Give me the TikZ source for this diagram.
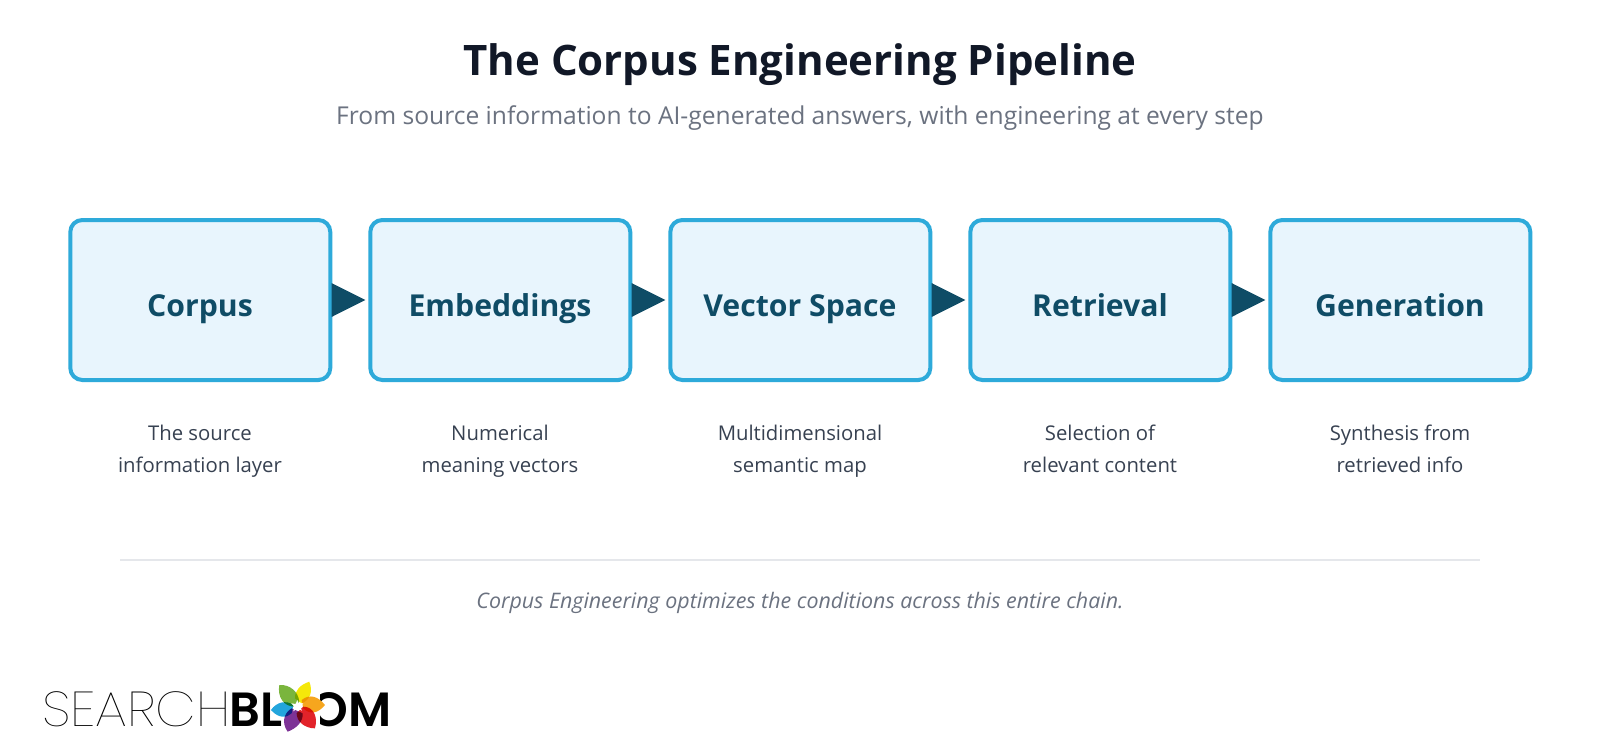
\documentclass[tikz,border=0pt]{standalone}
\usepackage{fontspec}
\usetikzlibrary{calc}
\setmainfont{Open Sans}
\newfontfamily\thinfont{Poppins Thin}[FakeStretch=1.075]
\newfontfamily\blackfont{Poppins SemiBold}
\definecolor{boxline}{HTML}{2EAADA}
\definecolor{boxfill}{HTML}{E8F5FD}
\definecolor{deep}{HTML}{0F4C66}
\definecolor{titlec}{HTML}{111827}
\definecolor{greyc}{HTML}{6B7280}
\definecolor{descc}{HTML}{374151}
\definecolor{rulec}{HTML}{E5E7EB}
\tikzset{
 stepbox/.style={draw=boxline,fill=boxfill,line width=4pt,rounded corners=12pt,minimum width=260pt,minimum height=160pt,inner sep=0pt,outer sep=0pt},
 steplabel/.style={text=deep,font=\fontsize{30.2}{36}\selectfont\bfseries,anchor=base,inner sep=0pt},
 desclabel/.style={text=descc,font=\fontsize{20.3}{32}\selectfont,align=center,anchor=base,inner sep=0pt},
 pointer/.style={fill=deep,draw=none},
 petal/.style={draw=none,blend mode=multiply}
}
\begin{document}
\begin{tikzpicture}[x=1pt,y=-1pt]
\useasboundingbox (0,0) rectangle (1600,752);
\fill[white] (0,0) rectangle (1600,752);
\node[text=titlec,font=\fontsize{42}{50}\selectfont\bfseries,inner sep=0pt,anchor=base] (title) at (800,75.7) {The Corpus Engineering Pipeline};
\node[text=greyc,font=\fontsize{24.6}{30}\selectfont,inner sep=0pt,anchor=base] (sub) at (800,124) {From source information to AI-generated answers, with engineering at every step};
\foreach \n/\x/\t/\a/\b in {a/200/Corpus/The source/information layer,b/500/Embeddings/Numerical/meaning vectors,c/800/Vector Space/Multidimensional/semantic map,d/1100/Retrieval/Selection of/relevant content,e/1400/Generation/Synthesis from/retrieved info}{
 \node[stepbox] (\n) at (\x+0.3,300) {};
 \node[steplabel] (\n l) at (\x,316) {\t};
 \node[desclabel] (\n d) at (\x,472) {\a\\\b};
}
\foreach \p/\q in {a/b,b/c,c/d,d/e}{
 \fill[pointer] ($(\p.east)+(1.2,-17)$) -- ($(\p.east)+(35,0)$) -- ($(\p.east)+(1.2,17)$) -- cycle;
}
\coordinate (ruleL) at (120,559.5);
\coordinate (ruleR) at (1480,559.5);
\draw[line width=2pt,draw=rulec] (ruleL) -- (ruleR);
\node[text=greyc,font=\fontsize{21.4}{26}\selectfont\itshape,inner sep=0pt,anchor=base] (note) at (800,608) {Corpus Engineering optimizes the conditions across this entire chain.};
\node[anchor=base west,inner sep=0pt,font=\fontsize{49}{49}\thinfont\selectfont] (logoa) at (42,726) {SEARCH};
\node[anchor=base west,inner sep=0pt,font=\fontsize{48}{48}\blackfont\selectfont] (logob) at (229.5,726) {BL};
\node[anchor=base east,inner sep=0pt,font=\fontsize{48}{48}\blackfont\selectfont] (logoc) at (391.5,726) {OM};
\begin{scope}[shift={(20,650)},x=0.3333pt,y=-0.3333pt,transparency group]
\fill[petal,fill=white] (785,110) rectangle (900,240);
\fill[petal,fill={rgb,255:red,122;green,181;blue,61}] (778,105) .. controls (810,103) and (835,125) .. (838,155) -- (825,170) .. controls (790,170) and (772,140) .. (778,105) -- cycle;
\fill[petal,fill={rgb,255:red,245;green,232;blue,10}] (868,95) .. controls (880,125) and (870,150) .. (845,160) -- (825,145) .. controls (825,120) and (840,105) .. (868,95) -- cycle;
\fill[petal,fill={rgb,255:red,246;green,166;blue,30}] (915,165) .. controls (895,190) and (870,195) .. (850,175) -- (845,150) .. controls (870,130) and (895,140) .. (915,165) -- cycle;
\fill[petal,fill={rgb,255:red,226;green,35;blue,42}] (885,235) .. controls (855,235) and (830,215) .. (830,190) -- (850,170) .. controls (880,170) and (895,200) .. (885,235) -- cycle;
\fill[petal,fill={rgb,255:red,125;green,50;blue,150}] (803,245) .. controls (785,220) and (790,190) .. (815,175) -- (848,190) .. controls (850,215) and (830,235) .. (803,245) -- cycle;
\fill[petal,fill={rgb,255:red,35;green,165;blue,220}] (753,180) .. controls (770,155) and (800,150) .. (820,165) -- (815,190) .. controls (800,205) and (775,205) .. (753,180) -- cycle;
\end{scope}
\begin{scope}[shift={(20,650)},x=0.3333pt,y=-0.3333pt]
\fill[white] (832,150) -- (836,162) -- (850,160) -- (840,170) -- (846,182) -- (832,175) -- (820,184) -- (823,170) -- (814,160) -- (827,162) -- cycle;
\end{scope}
\end{tikzpicture}
\end{document}
